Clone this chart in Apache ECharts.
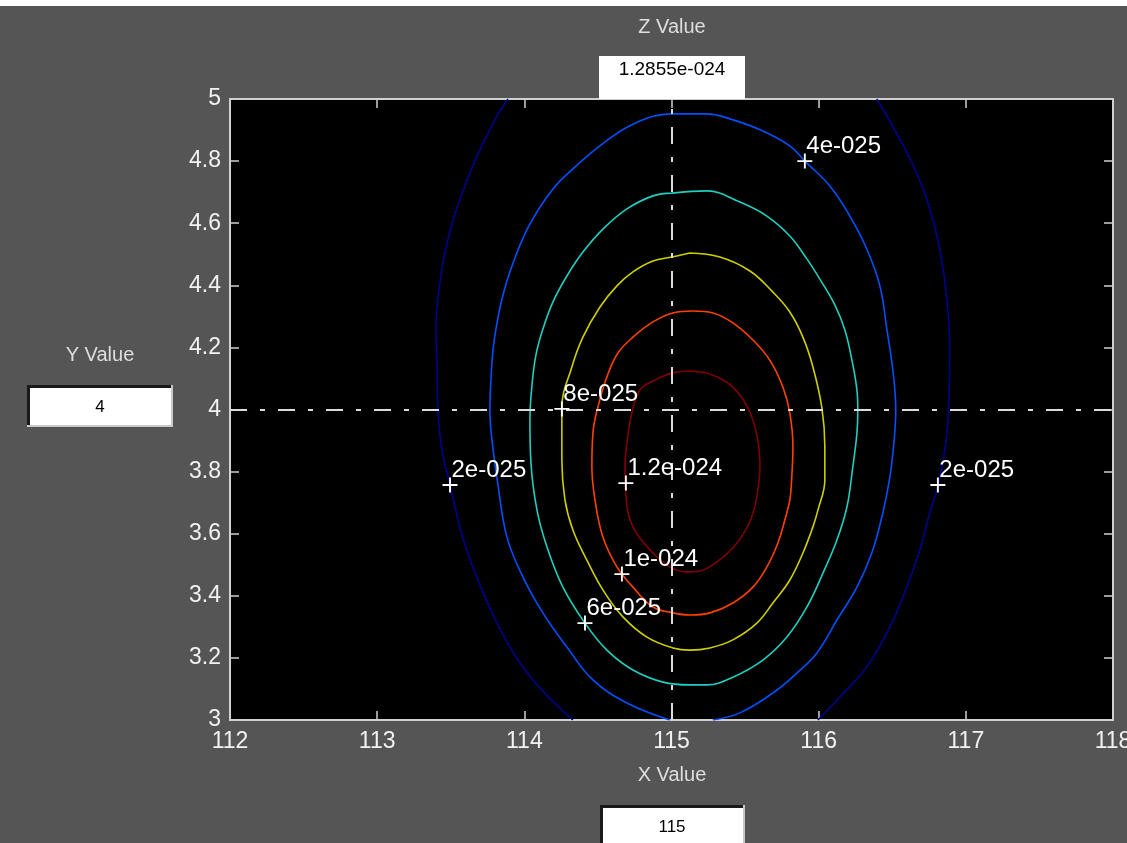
<!DOCTYPE html>
<html><head><meta charset="utf-8">
<script src="https://cdn.jsdelivr.net/npm/echarts@6/dist/echarts.min.js"></script>
<style>html,body{margin:0;padding:0;background:#555555;}#c{width:1127px;height:843px;}</style>
</head><body><div id="c"></div>
<script>
// ---- axes ----
const xMin = 112, xMax = 118, xStep = 1;
const yMin = 3, yMax = 5, yStep = 0.2;
// ---- crosshair / readouts ----
const crossX = 115;
const crossY = 4;
const zReadout = '1.2855e-024';
// ---- contour levels and colours (jet) ----
const levelNames = ['2e-025', '4e-025', '6e-025', '8e-025', '1e-024', '1.2e-024'];
const levelColors = ['#00008f', '#0050ff', '#1fcfbf', '#cfcf00', '#ff4000', '#800000'];
// ---- contour paths ----
const c200Left = [[113.889,5.000],[113.814,4.945],[113.678,4.816],[113.563,4.678],[113.481,4.549],[113.427,4.411],[113.399,4.259],[113.406,4.159],[113.413,3.998],[113.440,3.870],[113.495,3.757],[113.583,3.586],[113.712,3.419],[113.868,3.264],[114.058,3.129],[114.330,3.000]];
const c200Right = [[116.395,5.000],[116.572,4.852],[116.708,4.713],[116.810,4.546],[116.864,4.385],[116.891,4.201],[116.885,4.031],[116.864,3.892],[116.810,3.754],[116.755,3.667],[116.688,3.548],[116.599,3.428],[116.484,3.300],[116.327,3.171],[116.144,3.074],[115.995,3.000]];
const c400 = [[114.989,3.000],[114.697,3.055],[114.466,3.129],[114.289,3.235],[114.126,3.345],[113.990,3.461],[113.882,3.589],[113.821,3.757],[113.780,3.902],[113.766,3.998],[113.773,4.095],[113.787,4.192],[113.807,4.259],[113.848,4.356],[113.916,4.462],[114.031,4.591],[114.194,4.710],[114.330,4.775],[114.514,4.849],[114.738,4.919],[115.003,4.952],[115.241,4.952],[115.397,4.936],[115.621,4.897],[115.804,4.849],[115.906,4.800],[116.076,4.720],[116.212,4.623],[116.327,4.517],[116.416,4.398],[116.463,4.259],[116.504,4.127],[116.524,3.998],[116.511,3.892],[116.484,3.783],[116.436,3.667],[116.361,3.538],[116.260,3.428],[116.124,3.322],[115.988,3.216],[115.852,3.151],[115.689,3.087],[115.465,3.023],[115.281,3.000]];
const c600 = [[115.003,4.697],[115.241,4.704],[115.465,4.668],[115.648,4.623],[115.804,4.559],[115.920,4.485],[116.008,4.420],[116.110,4.337],[116.178,4.256],[116.226,4.159],[116.260,4.063],[116.266,3.998],[116.260,3.924],[116.232,3.815],[116.192,3.686],[116.124,3.580],[116.029,3.473],[115.920,3.364],[115.784,3.267],[115.621,3.193],[115.417,3.138],[115.241,3.113],[115.125,3.113],[114.942,3.122],[114.738,3.161],[114.561,3.225],[114.412,3.312],[114.262,3.428],[114.154,3.557],[114.086,3.676],[114.045,3.828],[114.038,3.966],[114.052,4.079],[114.079,4.176],[114.126,4.259],[114.194,4.346],[114.289,4.430],[114.398,4.507],[114.534,4.581],[114.697,4.646],[114.874,4.688],[115.003,4.697]];
const c800 = [[115.125,4.504],[115.329,4.491],[115.533,4.446],[115.689,4.378],[115.804,4.314],[115.893,4.233],[115.961,4.137],[116.022,4.005],[116.042,3.879],[116.042,3.773],[115.995,3.676],[115.961,3.622],[115.893,3.538],[115.804,3.451],[115.689,3.377],[115.580,3.312],[115.417,3.258],[115.261,3.232],[115.125,3.225],[115.010,3.232],[114.833,3.267],[114.670,3.332],[114.534,3.419],[114.425,3.515],[114.330,3.612],[114.276,3.709],[114.255,3.837],[114.255,4.005],[114.323,4.137],[114.398,4.233],[114.514,4.330],[114.629,4.398],[114.738,4.443],[114.874,4.478],[115.003,4.491],[115.125,4.504]];
const c1000 = [[115.145,4.317],[115.281,4.311],[115.417,4.279],[115.553,4.224],[115.668,4.159],[115.757,4.072],[115.804,3.989],[115.825,3.879],[115.818,3.789],[115.804,3.709],[115.770,3.644],[115.723,3.570],[115.648,3.493],[115.553,3.428],[115.417,3.377],[115.261,3.345],[115.125,3.338],[115.010,3.345],[114.874,3.364],[114.738,3.428],[114.629,3.493],[114.534,3.589],[114.480,3.709],[114.459,3.815],[114.466,3.924],[114.500,4.008],[114.561,4.105],[114.636,4.182],[114.738,4.233],[114.874,4.282],[115.010,4.311],[115.145,4.317]];
const c1200 = [[115.145,4.124],[115.281,4.111],[115.417,4.072],[115.519,4.005],[115.580,3.918],[115.601,3.815],[115.587,3.741],[115.560,3.676],[115.505,3.612],[115.417,3.554],[115.308,3.509],[115.193,3.480],[115.098,3.477],[114.989,3.493],[114.874,3.538],[114.738,3.622],[114.690,3.725],[114.684,3.815],[114.697,3.892],[114.731,3.989],[114.786,4.063],[114.874,4.092],[115.010,4.118],[115.145,4.124]];
// ---- contour label anchors: x, y, text ----
const labelPoints = [
  [113.495, 3.757, '2e-025'],
  [116.810, 3.757, '2e-025'],
  [115.906, 4.800, '4e-025'],
  [114.412, 3.312, '6e-025'],
  [114.255, 4.002, '8e-025'],
  [114.663, 3.470, '1e-024'],
  [114.690, 3.763, '1.2e-024']
];

const FONT = 'Arial, "Liberation Sans", sans-serif';
const chart = echarts.init(document.getElementById('c'), null, {renderer: 'canvas'});

function contour(name, data, color) {
  return {
    name: name, type: 'line', data: data, showSymbol: false, symbol: 'none',
    smooth: 0.4, clip: true, z: 3, silent: true,
    lineStyle: {color: color, width: 1.6}
  };
}

const axisTick = {show: true, inside: true, length: 9, lineStyle: {color: '#d0d0d0', width: 1.5}};
const dashDot = [17, 13, 5, 13];

const option = {
  backgroundColor: '#555555',
  animation: false,
  grid: {left: 230, top: 99, width: 883, height: 621, show: true, outerBoundsMode: 'none',
         containLabel: false,
         backgroundColor: '#000000', borderColor: '#d0d0d0', borderWidth: 2},
  xAxis: [
    {type: 'value', min: xMin, max: xMax, interval: xStep, position: 'bottom',
     axisLine: {show: false}, splitLine: {show: false}, axisTick: axisTick,
     axisLabel: {color: '#f2f2f2', fontSize: 23, fontFamily: FONT, margin: 10}},
    {type: 'value', min: xMin, max: xMax, interval: xStep, position: 'top',
     axisLine: {show: false}, splitLine: {show: false}, axisTick: axisTick,
     axisLabel: {show: false}}
  ],
  yAxis: [
    {type: 'value', min: yMin, max: yMax, interval: yStep, position: 'left',
     axisLine: {show: false}, splitLine: {show: false}, axisTick: axisTick,
     axisLabel: {color: '#f2f2f2', fontSize: 23, fontFamily: FONT, margin: 9}},
    {type: 'value', min: yMin, max: yMax, interval: yStep, position: 'right',
     axisLine: {show: false}, splitLine: {show: false}, axisTick: axisTick,
     axisLabel: {show: false}}
  ],
  series: [
    contour(levelNames[0], c200Left, levelColors[0]),
    contour(levelNames[0], c200Right, levelColors[0]),
    contour(levelNames[1], c400, levelColors[1]),
    contour(levelNames[2], c600, levelColors[2]),
    contour(levelNames[3], c800, levelColors[3]),
    contour(levelNames[4], c1000, levelColors[4]),
    contour(levelNames[5], c1200, levelColors[5]),
    {
      type: 'line', data: [], silent: true, z: 4,
      markLine: {
        silent: true, symbol: 'none', animation: false,
        label: {show: false},
        lineStyle: {color: '#dcdcdc', width: 2, type: dashDot},
        data: [{xAxis: crossX}, {yAxis: crossY}]
      }
    },
    {
      type: 'scatter', data: labelPoints, z: 5, silent: true,
      encode: {x: 0, y: 1},
      symbol: 'path://M0,7h16v2h-16z M7,0h2v16h-2z', symbolSize: 15,
      itemStyle: {color: '#ffffff', opacity: 1},
      label: {show: true, formatter: p => p.data[2], position: [9, 5],
              align: 'left', verticalAlign: 'bottom',
              color: '#ffffff', fontSize: 24, fontFamily: FONT}
    }
  ],
  graphic: [
    {type: 'rect', shape: {x: 0, y: 0, width: 1127, height: 6}, style: {fill: '#ffffff'}},
    {type: 'text', x: 672, y: 27, style: {text: 'Z Value', fill: '#dedede', font: '20px ' + FONT, align: 'center', verticalAlign: 'middle'}},
    {type: 'rect', shape: {x: 599, y: 56, width: 146, height: 43}, style: {fill: '#ffffff'}},
    {type: 'text', x: 672, y: 70, style: {text: zReadout, fill: '#000000', font: '19px ' + FONT, align: 'center', verticalAlign: 'middle'}},

    {type: 'text', x: 100, y: 355, style: {text: 'Y Value', fill: '#dedede', font: '20px ' + FONT, align: 'center', verticalAlign: 'middle'}},
    {type: 'rect', shape: {x: 27, y: 385, width: 146, height: 42}, style: {fill: '#c8c8c8'}},
    {type: 'rect', shape: {x: 27, y: 385, width: 144, height: 40}, style: {fill: '#1a1a1a'}},
    {type: 'rect', shape: {x: 30, y: 388, width: 141, height: 37}, style: {fill: '#ffffff'}},
    {type: 'text', x: 100, y: 407, style: {text: String(crossY), fill: '#000000', font: '17px ' + FONT, align: 'center', verticalAlign: 'middle'}},

    {type: 'text', x: 672, y: 775, style: {text: 'X Value', fill: '#dedede', font: '20px ' + FONT, align: 'center', verticalAlign: 'middle'}},
    {type: 'rect', shape: {x: 600, y: 805, width: 145, height: 45}, style: {fill: '#c8c8c8'}},
    {type: 'rect', shape: {x: 600, y: 805, width: 143, height: 45}, style: {fill: '#1a1a1a'}},
    {type: 'rect', shape: {x: 603, y: 808, width: 140, height: 45}, style: {fill: '#ffffff'}},
    {type: 'text', x: 672, y: 827, style: {text: String(crossX), fill: '#000000', font: '17px ' + FONT, align: 'center', verticalAlign: 'middle'}}
  ]
};
chart.setOption(option);
</script>
</body></html>
